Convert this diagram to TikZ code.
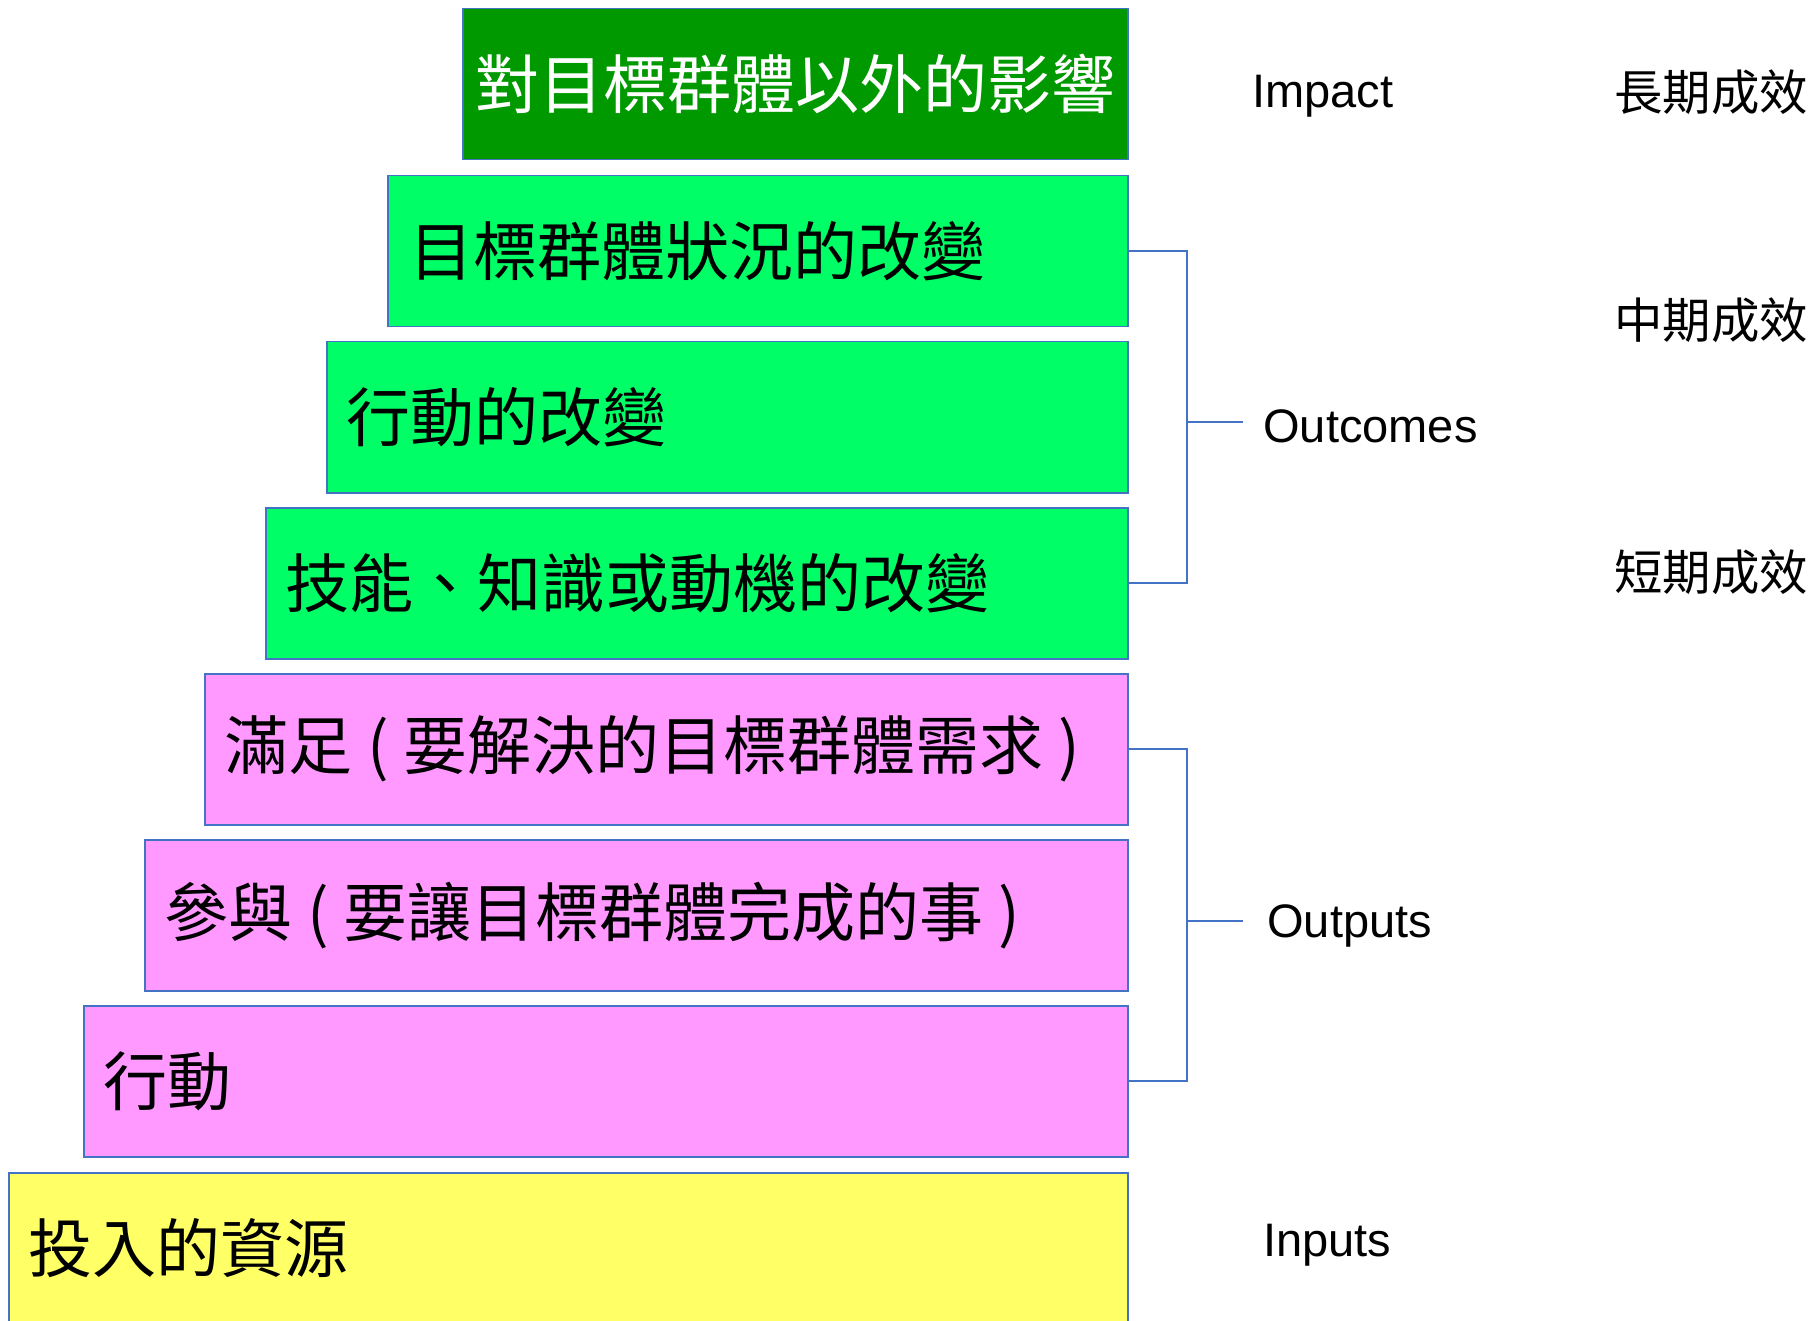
\documentclass[tikz,border=0pt]{standalone}
\usepackage{fontspec}
\setmainfont{Liberation Sans}
\newfontfamily\cjk{Noto Sans CJK TC}
\definecolor{impactc}{HTML}{009900}
\definecolor{outc}{HTML}{00FF66}
\definecolor{outpc}{HTML}{FF99FF}
\definecolor{inc}{HTML}{FFFF66}
\definecolor{bordc}{HTML}{4472C4}
\newcommand{\lp}{\makebox[0.8em]{(}}
\newcommand{\rp}{\makebox[0.8em]{)}}
\tikzset{
  box/.style={draw=bordc, line width=0.75pt, inner sep=0pt, minimum height=75.5pt, anchor=north west},
  btext/.style={inner sep=0pt, font=\cjk\fontsize{32pt}{32pt}\selectfont, anchor=west},
  lat/.style={inner sep=0pt, font=\fontsize{23.5pt}{23.5pt}\selectfont, text height=0.716em, text depth=0pt, anchor=west},
  side/.style={inner sep=0pt, font=\cjk\fontsize{24.2pt}{24.2pt}\selectfont, anchor=west},
  brk/.style={draw=bordc, line width=1pt}
}
\begin{document}
\begin{tikzpicture}[x=0.5pt,y=-0.5pt]
\useasboundingbox (0,0) rectangle (1810,1321);
% boxes
\node[box, fill=impactc, minimum width=332.5pt] (b1) at (462,8) {};
\node[box, fill=outc, minimum width=370pt] (b2) at (387,175) {};
\node[box, fill=outc, minimum width=400.5pt] (b3) at (326,341) {};
\node[box, fill=outc, minimum width=431pt] (b4) at (265,507) {};
\node[box, fill=outpc, minimum width=461.5pt] (b5) at (204,673) {};
\node[box, fill=outpc, minimum width=491.5pt] (b6) at (144,839) {};
\node[box, fill=outpc, minimum width=522pt] (b7) at (83,1005) {};
\node[box, fill=inc, minimum width=559.5pt] (b8) at (8,1172) {};
% texts
\node[btext, anchor=center, text=white] (t1) at (b1.center) {對目標群體以外的影響};
\node[btext] (t2) at ([xshift=11pt]b2.west) {目標群體狀況的改變};
\node[btext] (t3) at ([xshift=10pt]b3.west) {行動的改變};
\node[btext] (t4) at ([xshift=10pt]b4.west) {技能、知識或動機的改變};
\node[btext] (t5) at ([xshift=10pt]b5.west) {滿足\lp 要解決的目標群體需求\rp};
\node[btext] (t6) at ([xshift=10pt]b6.west) {參與\lp 要讓目標群體完成的事\rp};
\node[btext] (t7) at ([xshift=10pt]b7.west) {行動};
\node[btext] (t8) at ([xshift=10pt]b8.west) {投入的資源};
% brackets
\coordinate (ocs) at (1187,422);
\coordinate (oce) at (1243,422);
\coordinate (ops) at (1187,921);
\coordinate (ope) at (1243,921);
\draw[brk] (b2.east) -| (ocs) |- (b4.east);
\draw[brk] (ocs) -- (oce);
\draw[brk] (b5.east) -| (ops) |- (b7.east);
\draw[brk] (ops) -- (ope);
% labels
\node[lat] (impact) at (1252,100) {Impact};
\node[lat] (outcomes) at (1263,435) {Outcomes};
\node[lat] (outputs) at (1267,930) {Outputs};
\node[lat] (inputs) at (1263,1249) {Inputs};
\node[side] (long) at (1614,92) {長期成效};
\node[side] (mid) at (1614,320) {中期成效};
\node[side] (short) at (1614,572) {短期成效};
\end{tikzpicture}
\end{document}
